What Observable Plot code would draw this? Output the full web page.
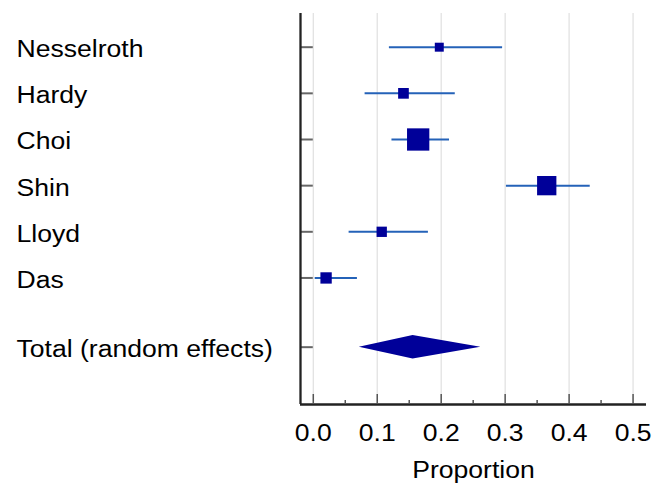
<!DOCTYPE html>
<html>
<head>
<meta charset="utf-8">
<script src="https://cdn.jsdelivr.net/npm/d3@7"></script>
<script src="https://cdn.jsdelivr.net/npm/@observablehq/plot@0.6"></script>
<style>
  body { margin: 0; background: #fff; }
  #chart svg { font-family: "Liberation Sans", Arial, sans-serif; display: block; }
</style>
</head>
<body>
<div id="chart"></div>
<script>
// Individual studies: proportion with 95% CI and relative weight (%)
const studies = ["Nesselroth", "Hardy", "Choi", "Shin", "Lloyd", "Das"];
const proportions = [0.197, 0.141, 0.164, 0.365, 0.107, 0.020];
const lowerCI = [0.119, 0.081, 0.123, 0.302, 0.056, 0.003];
const upperCI = [0.296, 0.222, 0.213, 0.433, 0.180, 0.069];
const weights = [6.2, 8.8, 38.3, 28.7, 8.2, 9.9];

// Random-effects summary
const totalLabel = "Total (random effects)";
const totalEstimate = 0.156;
const totalLower = 0.072;
const totalUpper = 0.262;

// Axis ticks
const xTicks = [0, 0.1, 0.2, 0.3, 0.4, 0.5];
const xMinorTicks = [0.05, 0.15, 0.25, 0.35, 0.45];
const xLabel = "Proportion";

const xDomain = [-0.02, 0.521];
const yDomain = [-0.73, 7.742];

const rows = studies.map((name, i) => ({
  name, row: i, p: proportions[i], lo: lowerCI[i], hi: upperCI[i], w: weights[i]
}));
const totalRow = studies.length + 0.5;
const labelRows = [...rows.map(d => ({name: d.name, row: d.row})), {name: totalLabel, row: totalRow}];

// Summary diamond: half-height in row units
const dh = 0.255;
const diamond = [
  {x: totalLower, y1: totalRow, y2: totalRow},
  {x: totalEstimate, y1: totalRow - dh, y2: totalRow + dh},
  {x: totalUpper, y1: totalRow, y2: totalRow}
];

const navy = "#000099";
const ciBlue = "#2462b8";
const font = 23;

const chart = Plot.plot({
  width: 662,
  height: 489,
  marginLeft: 300,
  marginRight: 16,
  marginTop: 13,
  marginBottom: 85,
  x: {domain: xDomain, axis: null, label: null},
  y: {type: "linear", domain: yDomain, reverse: true, axis: null, label: null},
  r: {type: "sqrt", domain: [0, d3.max(weights)], range: [0, 22.3 / Math.sqrt(Math.PI)]},
  marks: [
    Plot.gridX(xTicks, {stroke: "#e2e2e2", strokeOpacity: 1, strokeWidth: 1.3}),
    // inward ticks on the study axis
    Plot.ruleY(labelRows, {y: "row", x1: xDomain[0], x2: 0, stroke: "#666", strokeWidth: 2}),
    // confidence intervals
    Plot.ruleY(rows, {y: "row", x1: "lo", x2: "hi", stroke: ciBlue, strokeWidth: 2}),
    // point estimates sized by weight
    Plot.dot(rows, {x: "p", y: "row", r: "w", symbol: "square", fill: navy, stroke: null}),
    // pooled estimate
    Plot.areaY(diamond, {x: "x", y1: "y1", y2: "y2", fill: navy, curve: "linear"}),
    // axis lines
    Plot.ruleX([xDomain[0]], {stroke: "#222", strokeWidth: 2.3}),
    Plot.ruleY([yDomain[1]], {stroke: "#222", strokeWidth: 2.3}),
    // x axis ticks and labels
    Plot.axisX(xTicks, {tickSize: -10, tickFormat: () => "", stroke: "#555", strokeWidth: 1.5}),
    Plot.axisX(xMinorTicks, {tickSize: -4, tickFormat: () => "", stroke: "#555", strokeWidth: 1.5}),
    Plot.axisX(xTicks, {tickSize: 0, tickPadding: 20, tickFormat: d3.format(".1f"), fontSize: font, fill: "#000"}),
    // study labels
    Plot.text(labelRows, {y: "row", text: "name", frameAnchor: "left", textAnchor: "start", dx: -284, dy: 2.5, fontSize: font, fill: "#000"}),
    // x axis title
    Plot.text([xLabel], {frameAnchor: "bottom", dy: 73.5, fontSize: font, fill: "#000"})
  ]
});

document.getElementById("chart").append(chart);

// Widen the lettering to the broad face used by the chart
chart.querySelectorAll("text").forEach(t => {
  const len = t.getComputedTextLength();
  if (len > 0) {
    t.setAttribute("textLength", (len * 1.155).toFixed(1));
    t.setAttribute("lengthAdjust", "spacingAndGlyphs");
  }
});
</script>
</body>
</html>
